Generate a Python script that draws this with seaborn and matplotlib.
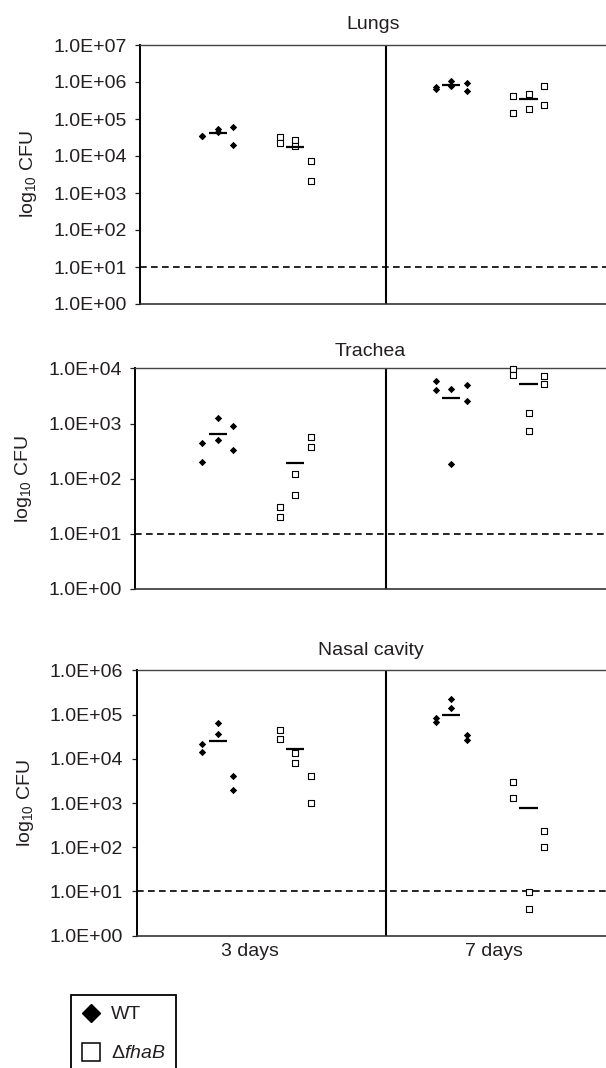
import numpy as np
import pandas as pd
import matplotlib
matplotlib.use("Agg")
import matplotlib.pyplot as plt
import seaborn as sns
from matplotlib.lines import Line2D
from matplotlib.ticker import FixedLocator, FuncFormatter, NullLocator

# -----------------------------
# Data (CFU per mouse)
# two mice per column, three columns per group
# -----------------------------
days = ["3 days", "7 days"]
strains = ["WT", "ΔfhaB"]
organs = ["Lungs", "Trachea", "Nasal cavity"]

lungs_wt_3d = [3.5e4, 3.4e4, 5.3e4, 4.5e4, 6.0e4, 2.0e4]
lungs_fhab_3d = [3.2e4, 2.2e4, 2.7e4, 1.9e4, 7.2e3, 2.1e3]
lungs_wt_7d = [7.2e5, 6.5e5, 1.07e6, 7.8e5, 9.3e5, 5.8e5]
lungs_fhab_7d = [4.2e5, 1.45e5, 4.8e5, 1.9e5, 7.8e5, 2.4e5]
lungs_mean_wt = [4.2e4, 8.3e5]
lungs_mean_fhab = [1.75e4, 3.5e5]

trachea_wt_3d = [441, 199, 1253, 512, 920, 328]
trachea_fhab_3d = [31, 20, 123, 51, 581, 372]
trachea_wt_7d = [6050, 4100, 4280, 187, 5060, 2620]
trachea_fhab_7d = [9750, 7590, 1567, 736, 7360, 5200]
trachea_mean_wt = [641, 2970]
trachea_mean_fhab = [193, 5270]

nasal_wt_3d = [2.19e4, 1.39e4, 6.3e4, 3.67e4, 4.0e3, 2.0e3]
nasal_fhab_3d = [4.5e4, 2.84e4, 1.35e4, 8.2e3, 4.1e3, 1.01e3]
nasal_wt_7d = [8.3e4, 6.7e4, 2.26e5, 1.42e5, 3.4e4, 2.6e4]
nasal_fhab_7d = [3030, 1318, 9.9, 4.0, 237, 101]
nasal_mean_wt = [2.52e4, 9.76e4]
nasal_mean_fhab = [1.66e4, 783]

detection_limit = 10
y_top = [1e7, 1e4, 1e6]

# -----------------------------
# Layout
# -----------------------------
DAY_X = [0.4735, 1.4225]
STRAIN_DX = [-0.157, 0.157]
COL_DX = 0.063
MEAN_HALF = 0.037
LABEL_X = [0.447, 1.439]
PX_PER_UNIT = 246.0

W, H = 606, 1068
# left px, top px, bottom px, title pad (pt)
panel_px = [(140, 45, 304, 11.5), (135, 368.5, 588.7, 9.0), (136.5, 670.3, 935.7, 11.0)]

groups = {
    "Lungs": [[lungs_wt_3d, lungs_fhab_3d], [lungs_wt_7d, lungs_fhab_7d]],
    "Trachea": [[trachea_wt_3d, trachea_fhab_3d], [trachea_wt_7d, trachea_fhab_7d]],
    "Nasal cavity": [[nasal_wt_3d, nasal_fhab_3d], [nasal_wt_7d, nasal_fhab_7d]],
}
means = {
    "Lungs": [lungs_mean_wt, lungs_mean_fhab],
    "Trachea": [trachea_mean_wt, trachea_mean_fhab],
    "Nasal cavity": [nasal_mean_wt, nasal_mean_fhab],
}

rows = []
for organ in organs:
    for d, day in enumerate(days):
        for s, strain in enumerate(strains):
            for i, v in enumerate(groups[organ][d][s]):
                x = DAY_X[d] + STRAIN_DX[s] + (i // 2 - 1) * COL_DX
                rows.append({"organ": organ, "day": day, "strain": strain, "x": x, "cfu": v})
data = pd.DataFrame(rows)

# -----------------------------
# Style
# -----------------------------
sns.set_theme(style="white")
plt.rcParams["font.family"] = ["Liberation Sans", "DejaVu Sans"]
plt.rcParams["mathtext.fontset"] = "custom"
plt.rcParams["mathtext.rm"] = "Liberation Sans"
plt.rcParams["mathtext.it"] = "Liberation Sans:italic"
TXT = "#231f20"

fig = plt.figure(figsize=(W / 100, H / 100), dpi=100)
fig.patch.set_facecolor("white")

for k, organ in enumerate(organs):
    left, top, bottom, tpad = panel_px[k]
    ax = fig.add_axes([left / W, 1 - bottom / H, (W - left) / W, (bottom - top) / H])
    sub = data[data["organ"] == organ]

    sns.scatterplot(data=sub[sub["strain"] == "WT"], x="x", y="cfu", marker="D",
                    color="black", s=14, linewidth=0, ax=ax, legend=False,
                    clip_on=False, zorder=3)
    sns.scatterplot(data=sub[sub["strain"] == "ΔfhaB"], x="x", y="cfu", marker="s",
                    color="white", edgecolor="black", s=15, linewidth=0.8, ax=ax,
                    legend=False, clip_on=False, zorder=3)

    for s in range(2):
        for d in range(2):
            cx = DAY_X[d] + STRAIN_DX[s]
            ax.hlines(means[organ][s][d], cx - MEAN_HALF, cx + MEAN_HALF,
                      color="black", lw=1.6, zorder=4)

    ax.axhline(detection_limit, color="black", lw=1.2, ls=(0, (4, 2.6)), zorder=2)
    ax.axvline(1.0, color="black", lw=1.5, zorder=2)

    ax.set_yscale("log")
    ax.set_ylim(1, y_top[k])
    ax.set_xlim((left - 140) / PX_PER_UNIT, (W - 140) / PX_PER_UNIT)
    ax.yaxis.set_major_locator(FixedLocator(10.0 ** np.arange(0, int(np.log10(y_top[k])) + 1)))
    ax.yaxis.set_major_formatter(FuncFormatter(lambda v, _: f"{v:.1E}"))
    ax.yaxis.set_minor_locator(NullLocator())
    ax.tick_params(axis="y", direction="out", length=3.6, width=0.9, pad=6,
                   labelsize=14, colors=TXT, left=True)

    if k == 2:
        ax.set_xticks(LABEL_X)
        ax.set_xticklabels(days)
        ax.tick_params(axis="x", length=0, pad=5, labelsize=14, colors=TXT)
    else:
        ax.set_xticks([])

    ax.set_xlabel("")
    ax.set_ylabel(r"log$_{10}$ CFU", fontsize=14, color=TXT, labelpad=10)
    ax.set_title(organ, fontsize=14, color=TXT, pad=tpad)

    ax.spines["right"].set_visible(False)
    ax.spines["left"].set_color("black")
    ax.spines["left"].set_linewidth(1.4)
    ax.spines["top"].set_color("#444444")
    ax.spines["top"].set_linewidth(1.0)
    ax.spines["bottom"].set_color("#333333")
    ax.spines["bottom"].set_linewidth(1.2)
    ax.set_facecolor("white")

# legend
handles = [
    Line2D([], [], marker="D", ls="none", color="black", markersize=9),
    Line2D([], [], marker="s", ls="none", markerfacecolor="white",
           markeredgecolor="black", markeredgewidth=1.1, markersize=12.5),
]
labels = ["WT", r"Δ$\mathit{fhaB}$"]
leg = fig.legend(handles, labels, loc="upper left", bbox_to_anchor=(70.7 / W, 1 - 995 / H),
                 frameon=True, fancybox=False, edgecolor="black", framealpha=1,
                 borderpad=0.55, labelspacing=1.1, handlelength=1.0, handletextpad=0.5,
                 borderaxespad=0, fontsize=14, labelcolor=TXT)
leg.get_frame().set_linewidth(1.3)

plt.savefig("out.png", dpi=100, facecolor="white")
plt.close()
